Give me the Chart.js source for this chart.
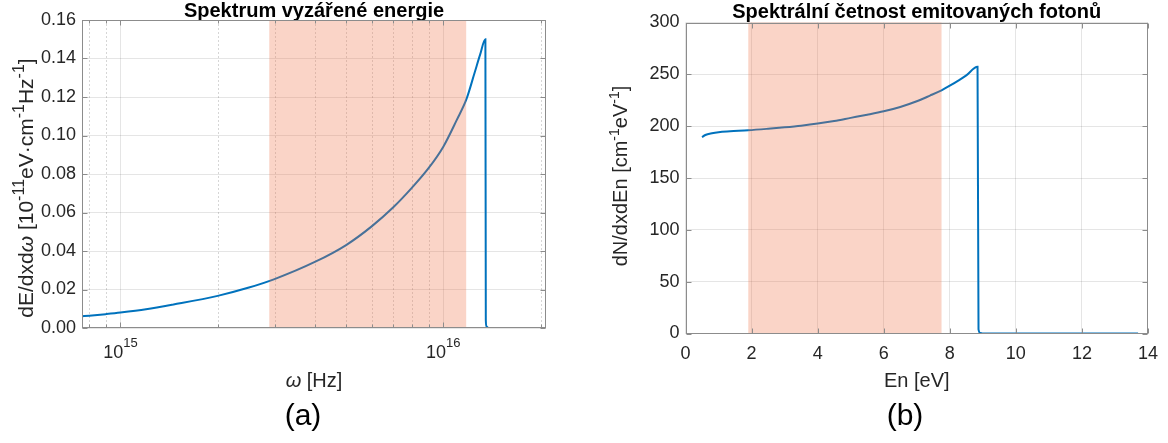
<!DOCTYPE html>
<html>
<head>
<meta charset="utf-8">
<script src="https://cdn.jsdelivr.net/npm/chart.js@4.4.1/dist/chart.umd.min.js"></script>
<style>
  body { margin: 0; background: #fff; width: 1168px; height: 443px; position: relative; overflow: hidden;
         font-family: 'Liberation Sans', Arial, sans-serif; }
  canvas { position: absolute; top: 0; }
  #chartA { left: 0; }
  #chartB { left: 580px; }
  .caption { position: absolute; top: 400px; width: 100px; text-align: center; font-size: 30px; line-height: 30px; color: #000; }
</style>
</head>
<body>
<canvas id="chartA" width="580" height="400"></canvas>
<canvas id="chartB" width="588" height="400"></canvas>
<div class="caption" style="left:253px">(a)</div>
<div class="caption" style="left:855px">(b)</div>
<script>
// (a) spektrum vyzářené energie
const omegaHz = [7.6e14, 8e14, 9e14, 1e15, 1.2e15, 1.46e15, 2e15, 2.5e15, 3e15, 4e15, 5e15, 6e15, 7e15,
                 8e15, 9e15, 1e16, 1.1e16, 1.18e16, 1.25e16, 1.3e16, 1.35e16, 1.354e16, 1.36e16, 1.38e16, 2.08e16];
const energySpectrum = [0.0061, 0.0064, 0.0072, 0.0080, 0.0097, 0.0122, 0.0167, 0.0210, 0.0254, 0.0343, 0.0431, 0.0528, 0.0627,
                        0.0729, 0.0830, 0.0942, 0.1080, 0.1190, 0.1326, 0.1420, 0.1500, 0.0040, 0.0008, 0.0000, 0.0000];
const omegaTicks = [8e14, 9e14, 1e15, 2e15, 3e15, 4e15, 5e15, 6e15, 7e15, 8e15, 9e15, 1e16, 2e16];
const omegaDecades = [1e15, 1e16];
const omegaBand = [2.89e15, 1.177e16];

// (b) spektrální četnost emitovaných fotonů
const photonEnergy = [0.5, 0.6, 0.8, 1.0, 1.35, 1.9, 2.5, 3.0, 3.5, 4.0, 4.5, 5.0, 5.5, 6.0, 6.5, 7.0, 7.4,
                      7.75, 8.0, 8.27, 8.5, 8.84, 8.87, 8.92, 9.0, 13.7];
const photonCount = [189.5, 191.5, 193.2, 194.2, 195.0, 196.0, 197.5, 198.9, 200.5, 202.5, 205.0, 208.0, 211.0, 214.3, 218.5, 224.0, 229.5,
                     234.6, 239.0, 244.2, 249.0, 257.3, 4.0, 0.6, 0.0, 0.0];
const energyBand = [1.9, 7.75];

const FONT = "'Liberation Sans', Arial, sans-serif";
const TEXT = '#262626';
const LINE = '#0072BD';
const GRID = 'rgba(0,0,0,0.1)';
const AXIS = '#8c8c8c';
const BAND = 'rgba(240,112,70,0.3)';

Chart.defaults.font.family = FONT;
Chart.defaults.color = TEXT;

// kreslí text s horními indexy (kvůli popiskům os)
function drawRich(ctx, parts, x, y, rot, size, supRatio) {
  ctx.save();
  ctx.translate(x, y);
  ctx.rotate(rot);
  ctx.fillStyle = TEXT;
  ctx.textAlign = 'left';
  ctx.textBaseline = 'alphabetic';
  const fontOf = p => (p.italic ? 'italic ' : '') + (p.sup ? Math.round(size * supRatio) : size) + 'px ' + FONT;
  let total = 0;
  parts.forEach(p => { ctx.font = fontOf(p); p.w = ctx.measureText(p.t).width; total += p.w; });
  let cx = -total / 2;
  parts.forEach(p => {
    ctx.font = fontOf(p);
    ctx.fillText(p.t, cx, p.sup ? -size * 0.42 : 0);
    cx += p.w;
  });
  ctx.restore();
}

function axesPlugin(cfg) {
  return {
    id: 'axes' + cfg.name,
    beforeDatasetsDraw(chart) {
      if (!cfg.minor) return;
      const { ctx, chartArea: a, scales: { x } } = chart;
      ctx.save();
      ctx.strokeStyle = 'rgba(0,0,0,0.16)';
      ctx.lineWidth = 1;
      ctx.setLineDash([2, 2]);
      x.ticks.forEach(t => {
        if (cfg.minor.includes(t.value)) {
          const px = Math.round(x.getPixelForValue(t.value)) + 0.5;
          ctx.beginPath(); ctx.moveTo(px, a.top); ctx.lineTo(px, a.bottom); ctx.stroke();
        }
      });
      ctx.restore();
    },
    afterDatasetsDraw(chart) {
      const { ctx, chartArea: a, scales: { x } } = chart;
      const x1 = x.getPixelForValue(cfg.band[0]);
      const x2 = x.getPixelForValue(cfg.band[1]);
      ctx.save();
      ctx.fillStyle = BAND;
      ctx.fillRect(x1, a.top, x2 - x1, a.bottom - a.top);
      ctx.restore();
    },
    afterDraw(chart) {
      const { ctx, chartArea: a, scales: { x, y } } = chart;
      ctx.save();
      ctx.strokeStyle = AXIS;
      ctx.lineWidth = 1;
      const L = Math.round(a.left) + 0.5, R = Math.round(a.right) - 0.5;
      const T = Math.round(a.top) + 0.5, B = Math.round(a.bottom) - 0.5;
      ctx.strokeRect(L, T, R - L, B - T);
      ctx.beginPath();
      y.ticks.forEach(t => {
        const py = Math.round(y.getPixelForValue(t.value)) + 0.5;
        ctx.moveTo(L, py); ctx.lineTo(L + 5, py);
        ctx.moveTo(R, py); ctx.lineTo(R - 5, py);
      });
      x.ticks.forEach(t => {
        const px = Math.round(x.getPixelForValue(t.value)) + 0.5;
        const len = cfg.minor && cfg.minor.includes(t.value) ? 3 : 5;
        ctx.moveTo(px, B); ctx.lineTo(px, B - len);
        ctx.moveTo(px, T); ctx.lineTo(px, T + len);
      });
      ctx.stroke();
      ctx.restore();

      // dekadické popisky 10^n
      if (cfg.decades) {
        cfg.decades.forEach(v => {
          const px = x.getPixelForValue(v);
          const exp = String(Math.round(Math.log10(v)));
          ctx.save();
          ctx.fillStyle = TEXT;
          ctx.textBaseline = 'alphabetic';
          ctx.font = '18px ' + FONT;
          const w1 = ctx.measureText('10').width;
          ctx.font = '13px ' + FONT;
          const w2 = ctx.measureText(exp).width;
          const left = px - (w1 + w2) / 2;
          ctx.font = '18px ' + FONT;
          ctx.fillText('10', left, 358);
          ctx.font = '13px ' + FONT;
          ctx.fillText(exp, left + w1, 347);
          ctx.restore();
        });
      }
      drawRich(ctx, cfg.xTitle, (a.left + a.right) / 2, 386.5, 0, 20, 0.7);
      drawRich(ctx, cfg.yTitle, cfg.yTitlePos[0], cfg.yTitlePos[1], -Math.PI / 2, cfg.yTitleSize, cfg.supRatio);
    }
  };
}

function lineDataset(xs, ys) {
  return {
    data: xs.map((v, i) => ({ x: v, y: ys[i] })),
    borderColor: LINE,
    borderWidth: 2,
    pointRadius: 0,
    cubicInterpolationMode: 'monotone',
    fill: false
  };
}

const tickFont = { family: FONT, size: 18 };

new Chart(document.getElementById('chartA').getContext('2d'), {
  type: 'line',
  data: { datasets: [lineDataset(omegaHz, energySpectrum)] },
  options: {
    responsive: false,
    animation: false,
    layout: { padding: { left: 0, right: 34, top: 0, bottom: 0 } },
    plugins: {
      legend: { display: false },
      tooltip: { enabled: false },
      title: {
        display: true,
        text: 'Spektrum vyzářené energie',
        fullSize: false,
        color: '#000',
        font: { family: FONT, size: 20, weight: 'bold', lineHeight: 1 },
        padding: { top: 1.5, bottom: -1.5 }
      }
    },
    scales: {
      x: {
        type: 'logarithmic',
        min: 7.6e14,
        max: 2.08e16,
        afterBuildTicks: s => { s.ticks = omegaTicks.map(v => ({ value: v })); },
        afterFit: s => { s.height = 72; },
        ticks: { display: false, autoSkip: false },
        grid: {
          drawTicks: false,
          color: c => (c.tick && omegaDecades.includes(c.tick.value)) ? GRID : 'rgba(0,0,0,0)'
        },
        border: { display: false }
      },
      y: {
        min: 0,
        max: 0.16,
        afterFit: s => { s.width = 82; },
        ticks: { stepSize: 0.02, padding: 6, font: tickFont, color: TEXT, callback: v => Number(v).toFixed(2) },
        grid: { drawTicks: false, color: GRID },
        border: { display: false }
      }
    }
  },
  plugins: [axesPlugin({
    name: 'A',
    band: omegaBand,
    minor: omegaTicks.filter(v => !omegaDecades.includes(v)),
    decades: omegaDecades,
    xTitle: [{ t: 'ω', italic: true }, { t: ' [Hz]' }],
    yTitle: [{ t: 'dE/dxd' }, { t: 'ω', italic: true }, { t: ' [10' }, { t: '-11', sup: true }, { t: 'eV·cm' },
             { t: '-1', sup: true }, { t: 'Hz' }, { t: '-1', sup: true }, { t: ']' }],
    yTitlePos: [33, 188],
    yTitleSize: 21,
    supRatio: 0.75
  })]
});

new Chart(document.getElementById('chartB').getContext('2d'), {
  type: 'line',
  data: { datasets: [lineDataset(photonEnergy, photonCount)] },
  options: {
    responsive: false,
    animation: false,
    layout: { padding: { left: 0, right: 20, top: 0, bottom: 0 } },
    plugins: {
      legend: { display: false },
      tooltip: { enabled: false },
      title: {
        display: true,
        text: 'Spektrální četnost emitovaných fotonů',
        fullSize: false,
        color: '#000',
        font: { family: FONT, size: 20, weight: 'bold', lineHeight: 1 },
        padding: { top: 2, bottom: 0.5 }
      }
    },
    scales: {
      x: {
        type: 'linear',
        min: 0,
        max: 14,
        afterFit: s => { s.height = 66.5; },
        ticks: { stepSize: 2, padding: 10, font: tickFont, color: TEXT, maxRotation: 0 },
        grid: { drawTicks: false, color: GRID },
        border: { display: false }
      },
      y: {
        min: 0,
        max: 300,
        afterFit: s => { s.width = 105.5; },
        ticks: { stepSize: 50, padding: 6, font: tickFont, color: TEXT },
        grid: { drawTicks: false, color: GRID },
        border: { display: false }
      }
    }
  },
  plugins: [axesPlugin({
    name: 'B',
    band: energyBand,
    xTitle: [{ t: 'En [eV]' }],
    yTitle: [{ t: 'dN/dxdEn [cm' }, { t: '-1', sup: true }, { t: 'eV' }, { t: '-1', sup: true }, { t: ']' }],
    yTitlePos: [47, 176],
    yTitleSize: 20,
    supRatio: 0.7
  })]
});
</script>
</body>
</html>
